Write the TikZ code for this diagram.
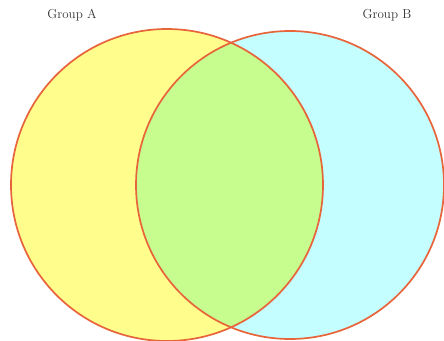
\documentclass[tikz,border=0pt]{standalone}
\usepackage{xcolor}
\usepackage{tikz}
\usetikzlibrary{positioning}
\definecolor{vennA}{HTML}{FFFE8C}
\definecolor{vennB}{HTML}{C4FEFE}
\definecolor{vennAB}{HTML}{C6FD8E}
\definecolor{vennEdge}{HTML}{E8643A}
\definecolor{vennText}{HTML}{333333}
\tikzset{
  vennring/.style={draw=vennEdge,line width=1.7pt},
  vennlbl/.style={font=\fontsize{13}{15}\selectfont,text=vennText,inner sep=0pt},
}

\begin{document}
\begin{tikzpicture}[x=1pt,y=-1pt]
  \useasboundingbox[fill=white] (0,0) rectangle (444,340);
  \coordinate (cA) at (167,185);
  \coordinate (cB) at (290,185);

  \fill[vennA] (cA) circle[radius=156];
  \fill[vennB] (cB) circle[radius=154];
  \begin{scope}
    \clip (cA) circle[radius=156];
    \fill[vennAB] (cB) circle[radius=154];
  \end{scope}
  \draw[vennring] (cA) circle[radius=156];
  \draw[vennring] (cB) circle[radius=154];

  \node[vennlbl] (lA) at (72,15) {Group A};
  \node[vennlbl] (lB) at (387,15) {Group B};
\end{tikzpicture}
\end{document}
